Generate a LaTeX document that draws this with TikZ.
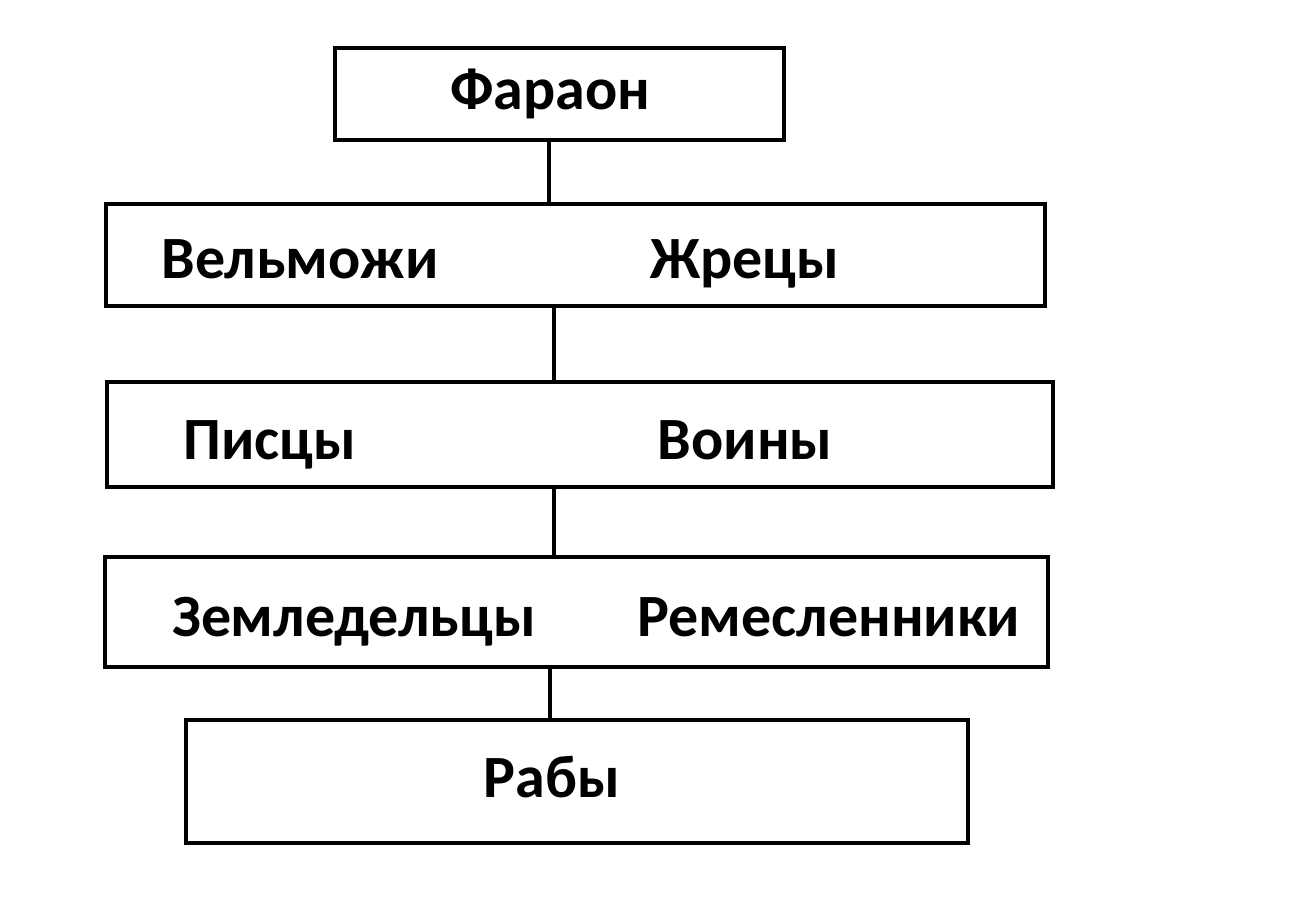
\documentclass[tikz,border=0pt]{standalone}
\usepackage{fontspec}
\setmainfont{Carlito}
\usetikzlibrary{fit}

\begin{document}
\begin{tikzpicture}
[x=0.75pt,y=-0.75pt,
 box/.style={rectangle,draw=black,line width=3pt,inner sep=0pt,fit={#1}},
 lbl/.style={font=\fontsize{45}{50}\selectfont\bfseries,inner sep=0pt,anchor=base},
 link/.style={line width=3pt}]

\useasboundingbox (0,0) rectangle (1313,909);

% boxes
\node[box={(335,48) (784,140)}] (pharaoh) {};
\node[box={(106,204) (1045,306)}] (upper) {};
\node[box={(107,382) (1053,487)}] (middle) {};
\node[box={(105,557) (1048,667)}] (lower) {};
\node[box={(186,720) (968,843)}] (slaves) {};

% labels
\node[lbl] (tpharaoh) at (550,110) {Фараон};
\node[lbl] (tnobles) at (300,278) {Вельможи};
\node[lbl] (tpriests) at (745,278) {Жрецы};
\node[lbl] (tscribes) at (270,459) {Писцы};
\node[lbl] (twarriors) at (745,459) {Воины};
\node[lbl] (tfarmers) at (354,636) {Земледельцы};
\node[lbl] (tcrafts) at (829,636) {Ремесленники};
\node[lbl] (tslaves) at (552,797) {Рабы};

% links
\coordinate (c1) at (549,0);
\coordinate (c2) at (554,0);
\coordinate (c3) at (550,0);
\draw[link] (pharaoh.south -| c1) -- (upper.north -| c1);
\draw[link] (upper.south -| c2) -- (middle.north -| c2);
\draw[link] (middle.south -| c2) -- (lower.north -| c2);
\draw[link] (lower.south -| c3) -- (slaves.north -| c3);
\end{tikzpicture}
\end{document}
